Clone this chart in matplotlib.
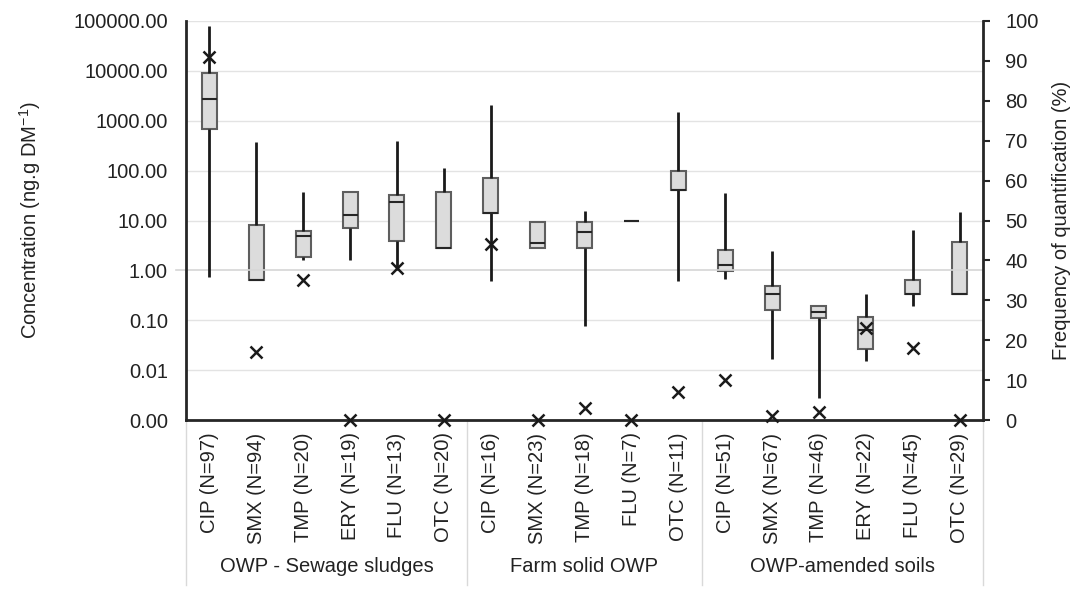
import matplotlib
matplotlib.use("Agg")
import matplotlib.pyplot as plt
import matplotlib.transforms as mtransforms
import numpy as np

plt.rcParams['font.family'] = ['Liberation Sans', 'DejaVu Sans']
plt.rcParams['mathtext.default'] = 'regular'

# ---------------- data ----------------
categories = ["CIP (N=97)", "SMX (N=94)", "TMP (N=20)", "ERY (N=19)", "FLU (N=13)", "OTC (N=20)",
              "CIP (N=16)", "SMX (N=23)", "TMP (N=18)", "FLU (N=7)", "OTC (N=11)",
              "CIP (N=51)", "SMX (N=67)", "TMP (N=46)", "ERY (N=22)", "FLU (N=45)", "OTC (N=29)"]
groups = ["OWP - Sewage sludges", "Farm solid OWP", "OWP-amended soils"]
group_sizes = [6, 5, 6]

whisker_low = [0.74, 0.63, 1.63, 1.63, 1.03, 2.8,
               0.61, 2.8, 0.077, 10.0, 0.61,
               0.68, 0.017, 0.0028, 0.015, 0.19, 0.33]
q1 = [670, 0.63, 1.87, 7.2, 3.8, 2.8,
      14.2, 2.8, 2.8, 10.0, 40,
      0.97, 0.16, 0.11, 0.027, 0.33, 0.33]
median = [2680, 0.63, 4.8, 13, 24, 2.8,
          14.2, 3.5, 5.8, 10.0, 40,
          1.26, 0.33, 0.148, 0.063, 0.33, 0.33]
q3 = [8900, 8.1, 6.3, 38, 32, 38,
      70, 9.5, 9.5, 10.0, 97,
      2.6, 0.48, 0.19, 0.117, 0.63, 3.7]
whisker_high = [79400, 375, 38, 38, 392, 115,
                2090, 9.5, 15.8, 10.0, 1510,
                35, 2.4, 0.19, 0.33, 6.5, 15]
frequency = [91, 17, 35, 0, 38, 0,
             44, 0, 3, 0, 7,
             10, 1, 2, 23, 18, 0]

ytick_vals = [0.001, 0.01, 0.1, 1, 10, 100, 1000, 10000, 100000]
rtick_vals = list(range(0, 101, 10))

# ---------------- figure ----------------
TXT = '#222222'
FS = 14.5
fig = plt.figure(figsize=(10.72, 5.89), dpi=100)
ax = fig.add_axes([186/1072, 1-420/589, (983-186)/1072, (420-21)/589])
ax.set_yscale('log')
ax.set_ylim(0.001, 100000)
n = len(categories)
x = np.arange(n)
ax.set_xlim(-0.5, n-0.5)

for v in ytick_vals:
    if v != 1:
        ax.axhline(v, color='#e3e3e3', lw=1.0, zorder=0)

ax.set_yticks(ytick_vals)
ax.set_yticklabels(["%.2f" % v for v in ytick_vals])
ax.minorticks_off()
ax.tick_params(axis='y', length=0, pad=13, labelsize=FS, labelcolor=TXT)
ax.set_xticks(x)
ax.set_xticklabels(categories, rotation=90, va='top', ha='center')
ax.tick_params(axis='x', length=0, pad=9, labelsize=FS, labelcolor=TXT)

for s in ['top', 'right']:
    ax.spines[s].set_visible(False)
for s in ['left', 'bottom']:
    ax.spines[s].set_color('#262626')
    ax.spines[s].set_linewidth(2)

bw = 0.32
lo = np.array(whisker_low); b1 = np.array(q1); md = np.array(median)
b3 = np.array(q3); hi = np.array(whisker_high)

# boxes
ax.bar(x, b3 - b1, bottom=b1, width=bw, color='#dcdcdc', edgecolor='#5e5e5e',
       linewidth=1.5, zorder=2)
# horizontal category axis crossing at 1.00
ax.plot([-0.012, 1.0], [1, 1], transform=ax.get_yaxis_transform(), color='#d6d6d6',
        lw=1.2, zorder=2.5, clip_on=False)
# whiskers
ax.vlines(x, lo, b1, color='#1a1a1a', lw=2, zorder=3)
ax.vlines(x, b3, hi, color='#1a1a1a', lw=2, zorder=3)
# medians
ax.hlines(md, x - bw/2, x + bw/2, color='#262626', lw=1.5, zorder=3)

# secondary axis
ax2 = ax.twinx()
ax2.set_ylim(0, 100)
ax2.set_yticks(rtick_vals)
ax2.tick_params(axis='y', direction='out', length=5, width=1.5, color='#262626',
                labelsize=FS, labelcolor=TXT, pad=11)
for s in ['top', 'left', 'bottom']:
    ax2.spines[s].set_visible(False)
ax2.spines['right'].set_color('#262626')
ax2.spines['right'].set_linewidth(2)
ax2.plot(x, frequency, linestyle='none', marker='x', markersize=9,
         markeredgewidth=1.8, color='#1a1a1a', clip_on=False, zorder=5)

ax.set_ylabel("Concentration (ng.g DM$^{-1}$)", fontsize=FS, color=TXT, labelpad=22)
ax2.set_ylabel("Frequency of quantification (%)", fontsize=FS, color=TXT, labelpad=10)

# group separators and labels
trans = mtransforms.blended_transform_factory(ax.transData, ax.transAxes)
bounds = np.concatenate([[0], np.cumsum(group_sizes)]) - 0.5
for b in bounds:
    ax.plot([b, b], [0, -165/399], transform=trans, color='#d9d9d9', lw=1.0,
            clip_on=False, zorder=1)
for i, g in enumerate(groups):
    cx = (bounds[i] + bounds[i+1]) / 2
    ax.text(cx, -146/399, g, transform=trans, ha='center', va='center',
            fontsize=FS, color=TXT)

fig.savefig("out.png", dpi=100)
